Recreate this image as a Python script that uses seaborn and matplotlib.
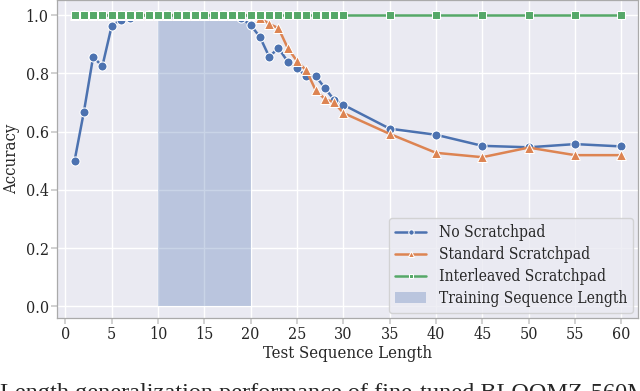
import matplotlib
matplotlib.use('Agg')
import pandas as pd
import numpy as np
import matplotlib.pyplot as plt
import seaborn as sns

lengths = list(range(1, 31)) + [35, 40, 45, 50, 55, 60]

no_scratchpad = [0.50, 0.667, 0.856, 0.825, 0.962, 0.985, 0.99, 1.0, 1.0, 1.0,
                 1.0, 1.0, 1.0, 1.0, 1.0, 1.0, 1.0, 1.0, 0.99, 0.966,
                 0.925, 0.857, 0.887, 0.84, 0.817, 0.791, 0.791, 0.75, 0.709, 0.692,
                 0.61, 0.589, 0.551, 0.546, 0.557, 0.549]
standard_scratchpad = [1.0, 1.0, 1.0, 1.0, 1.0, 1.0, 1.0, 1.0, 1.0, 1.0,
                       1.0, 1.0, 1.0, 1.0, 1.0, 1.0, 1.0, 1.0, 1.0, 1.0,
                       0.99, 0.97, 0.955, 0.887, 0.842, 0.81, 0.743, 0.712, 0.70, 0.664,
                       0.592, 0.527, 0.512, 0.545, 0.519, 0.519]
interleaved_scratchpad = [1.0] * len(lengths)

train_range = [10, 20]

sns.set_theme(style="darkgrid", palette="deep")
plt.rcParams['font.family'] = ['DejaVu Serif']
plt.rcParams['font.stretch'] = 'condensed'

fig = plt.figure(figsize=(6.4, 3.91), dpi=100)
ax = fig.add_axes([0.089, 0.187, 0.908, 0.813])

df = pd.DataFrame({'x': lengths, 'none': no_scratchpad,
                   'std': standard_scratchpad, 'inter': interleaved_scratchpad})
pal = sns.color_palette("deep")

ax.fill_between(train_range, 0, 1, color=pal[0], alpha=0.3, linewidth=0,
                label='Training Sequence Length')
sns.lineplot(data=df, x='x', y='none', marker='o', color=pal[0], lw=1.8,
             markersize=6.5, markeredgecolor='white', label='No Scratchpad', ax=ax)
sns.lineplot(data=df, x='x', y='std', marker='^', color=pal[1], lw=1.8,
             markersize=7, markeredgecolor='white', label='Standard Scratchpad', ax=ax)
sns.lineplot(data=df, x='x', y='inter', marker='s', color=pal[2], lw=1.8,
             markersize=6, markeredgecolor='white', label='Interleaved Scratchpad', ax=ax)

ax.set_xlim(-0.9, 61.8)
ax.set_ylim(-0.04, 1.052)
ax.set_xticks(range(0, 61, 5))
ax.set_yticks([0.0, 0.2, 0.4, 0.6, 0.8, 1.0])
ax.set_xlabel('Test Sequence Length', fontsize=12, labelpad=1)
ax.set_ylabel('Accuracy', fontsize=12)
ax.tick_params(labelsize=11.5, length=4, color='#cccccc', bottom=True, left=True, pad=2)
for s in ax.spines.values():
    s.set_visible(True)
    s.set_color('#aaaaaa')
    s.set_linewidth(0.9)

handles, labels = ax.get_legend_handles_labels()
order = [1, 2, 3, 0]
ax.legend([handles[i] for i in order], [labels[i] for i in order],
          loc='lower right', fontsize=11.2, frameon=True, markerscale=0.6,
          labelspacing=0.32, borderaxespad=0.3)

fig.text(0.0, -0.02, 'Length generalization performance of fine-tuned BLOOMZ-560M',
         fontsize=17.5, family='Liberation Serif', stretch='normal',
         ha='left', va='baseline')

fig.savefig('out.png', dpi=100)
